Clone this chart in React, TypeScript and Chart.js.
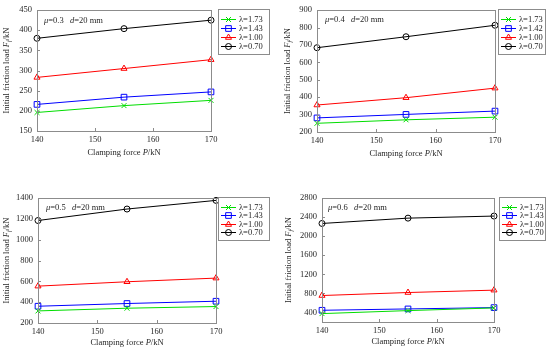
import React, { useEffect, useRef } from 'react';
import { Chart, registerables } from 'chart.js';
Chart.register(...registerables);

const clampingForce = [140, 155, 170];
const xTickMin = 140;
const xTickMax = 170;

const lambdaLabelsA = ['λ=1.73', 'λ=1.43', 'λ=1.00', 'λ=0.70'];
const lambdaLabelsB = ['λ=1.73', 'λ=1.42', 'λ=1.00', 'λ=0.70'];

// mu = 0.3
const mu03_l173 = [196, 213, 226];
const mu03_l143 = [216, 234, 247];
const mu03_l100 = [283, 305, 327];
const mu03_l070 = [380, 404, 425];
// mu = 0.4
const mu04_l173 = [250, 270, 285];
const mu04_l142 = [281, 301, 320];
const mu04_l100 = [355, 397, 452];
const mu04_l070 = [684, 747, 813];
// mu = 0.5
const mu05_l173 = [316, 342, 358];
const mu05_l143 = [361, 387, 409];
const mu05_l100 = [554, 596, 631];
const mu05_l070 = [1184, 1294, 1377];
// mu = 0.6
const mu06_l173 = [376, 439, 495];
const mu06_l143 = [446, 474, 502];
const mu06_l100 = [755, 818, 868];
const mu06_l070 = [2266, 2378, 2421];

const muValues = ['0.3', '0.4', '0.5', '0.6'];
const yRanges = [
  [150, 450, 50],
  [200, 900, 100],
  [200, 1400, 200],
  [200, 2800, 400],
];

const seriesStyles = [
  { color: '#00dd00', point: 'crossRot', radius: 3.5 },
  { color: '#0000ff', point: 'rect', radius: 4 },
  { color: '#ff0000', point: 'triangle', radius: 3.5 },
  { color: '#000000', point: 'circle', radius: 3 },
];

const panelData = [
  { labels: lambdaLabelsA, series: [mu03_l173, mu03_l143, mu03_l100, mu03_l070] },
  { labels: lambdaLabelsB, series: [mu04_l173, mu04_l142, mu04_l100, mu04_l070] },
  { labels: lambdaLabelsA, series: [mu05_l173, mu05_l143, mu05_l100, mu05_l070] },
  { labels: lambdaLabelsA, series: [mu06_l173, mu06_l143, mu06_l100, mu06_l070] },
];

const layouts = [
  { left: 0, top: 0, padTop: 5, padRight: 64, yWidth: 37, xHeight: 44, legDx: 7, legW: 51, legH: 45, yTitleX: 7, noteDx: 7, noteDy: 11, xTitleDy: 22 },
  { left: 275, top: 0, padTop: 5, padRight: 55, yWidth: 42, xHeight: 43, legDx: 3, legW: 47, legH: 45, yTitleX: 13, noteDx: 8, noteDy: 10, xTitleDy: 22 },
  { left: 0, top: 175, padTop: 23, padRight: 59, yWidth: 38, xHeight: 27, legDx: 2, legW: 51, legH: 43, yTitleX: 7, noteDx: 8, noteDy: 10, xTitleDy: 20 },
  { left: 275, top: 175, padTop: 23, padRight: 56, yWidth: 47, xHeight: 28, legDx: 5, legW: 46, legH: 43, yTitleX: 14, noteDx: 6, noteDy: 10, xTitleDy: 20 },
];

const FONT = '"Liberation Serif", "Times New Roman", serif';
const AXIS_COLOR = '#8c8c8c';
const TEXT_COLOR = '#262626';

type Seg = { t: string; i?: boolean; sub?: boolean };

function drawRich(ctx: CanvasRenderingContext2D, segs: Seg[], x: number, y: number, size: number, align: 'center' | 'left', rotate = false) {
  ctx.save();
  ctx.translate(x, y);
  if (rotate) ctx.rotate(-Math.PI / 2);
  const fontFor = (s: Seg) => `${s.i ? 'italic ' : ''}${s.sub ? size * 0.7 : size}px ${FONT}`;
  let total = 0;
  const widths = segs.map((s) => {
    ctx.font = fontFor(s);
    const w = ctx.measureText(s.t).width;
    total += w;
    return w;
  });
  let cx = align === 'center' ? -total / 2 : 0;
  ctx.textBaseline = 'middle';
  ctx.textAlign = 'left';
  ctx.fillStyle = TEXT_COLOR;
  segs.forEach((s, k) => {
    ctx.font = fontFor(s);
    ctx.fillText(s.t, cx, s.sub ? size * 0.25 : 0);
    cx += widths[k];
  });
  ctx.restore();
}

function drawMarker(ctx: CanvasRenderingContext2D, kind: string, x: number, y: number, r: number, color: string) {
  ctx.save();
  ctx.strokeStyle = color;
  ctx.lineWidth = 1;
  ctx.beginPath();
  if (kind === 'circle') {
    ctx.arc(x, y, r, 0, Math.PI * 2);
  } else if (kind === 'rect') {
    const s = r * Math.SQRT1_2;
    ctx.rect(x - s, y - s, 2 * s, 2 * s);
  } else if (kind === 'triangle') {
    ctx.moveTo(x, y - r);
    ctx.lineTo(x + r * 0.866, y + r * 0.5);
    ctx.lineTo(x - r * 0.866, y + r * 0.5);
    ctx.closePath();
  } else {
    const s = r * Math.SQRT1_2;
    ctx.moveTo(x - s, y - s);
    ctx.lineTo(x + s, y + s);
    ctx.moveTo(x + s, y - s);
    ctx.lineTo(x - s, y + s);
  }
  ctx.stroke();
  ctx.restore();
}

function Panel({ index }: { index: number }) {
  const ref = useRef<HTMLCanvasElement | null>(null);
  useEffect(() => {
    if (!ref.current) return;
    const L = layouts[index];
    const D = panelData[index];
    const [yMin, yMax, yStep] = yRanges[index];
    const mu = muValues[index];

    const decor = {
      id: 'decor' + index,
      afterDraw(chart: any) {
        const ctx: CanvasRenderingContext2D = chart.ctx;
        const a = chart.chartArea;
        const xs = chart.scales.x;
        const ys = chart.scales.y;
        ctx.save();
        ctx.strokeStyle = AXIS_COLOR;
        ctx.lineWidth = 1;
        ctx.beginPath();
        xs.ticks.forEach((t: any) => {
          const px = Math.round(xs.getPixelForValue(t.value)) + 0.5;
          ctx.moveTo(px, a.bottom);
          ctx.lineTo(px, a.bottom - 3);
        });
        ys.ticks.forEach((t: any) => {
          const py = Math.round(ys.getPixelForValue(t.value)) + 0.5;
          ctx.moveTo(a.left, py);
          ctx.lineTo(a.left + 3, py);
        });
        ctx.stroke();
        ctx.strokeRect(Math.round(a.left) + 0.5, Math.round(a.top) + 0.5, Math.round(a.right - a.left), Math.round(a.bottom - a.top));
        ctx.restore();

        drawRich(ctx, [{ t: 'μ', i: true }, { t: '=' + mu + '   ' }, { t: 'd', i: true }, { t: '=20 mm' }], a.left + L.noteDx, a.top + L.noteDy, 8.5, 'left');
        drawRich(ctx, [{ t: 'Clamping force ' }, { t: 'P', i: true }, { t: '/kN' }], (a.left + a.right) / 2, a.bottom + L.xTitleDy, 8.5, 'center');
        drawRich(ctx, [{ t: 'Initial friction load ' }, { t: 'F', i: true }, { t: 'f', i: true, sub: true }, { t: '/kN' }], L.yTitleX, (a.top + a.bottom) / 2, 8.5, 'center', true);

        const lx = a.right + L.legDx;
        const ly = a.top - 1;
        ctx.save();
        ctx.fillStyle = '#ffffff';
        ctx.fillRect(lx, ly, L.legW, L.legH);
        ctx.strokeStyle = AXIS_COLOR;
        ctx.lineWidth = 1;
        ctx.strokeRect(Math.round(lx) + 0.5, Math.round(ly) + 0.5, L.legW, L.legH);
        const rowGap = (L.legH - 9) / 4;
        D.labels.forEach((lab, k) => {
          const st = seriesStyles[k];
          const ry = Math.round(ly + 9.5 + k * rowGap) + 0.5;
          ctx.strokeStyle = st.color;
          ctx.beginPath();
          ctx.moveTo(lx + 3, ry);
          ctx.lineTo(lx + 18, ry);
          ctx.stroke();
          drawMarker(ctx, st.point, lx + 10.5, ry, st.radius, st.color);
          ctx.fillStyle = TEXT_COLOR;
          ctx.font = `8.5px ${FONT}`;
          ctx.textBaseline = 'middle';
          ctx.textAlign = 'left';
          ctx.fillText(lab, lx + 21, ry);
        });
        ctx.restore();
      },
    };

    const chart = new Chart(ref.current, {
      type: 'line',
      data: {
        datasets: D.series.map((vals, k) => ({
          label: D.labels[k],
          data: clampingForce.map((x, j) => ({ x, y: vals[j] })),
          borderColor: seriesStyles[k].color,
          backgroundColor: 'rgba(0,0,0,0)',
          borderWidth: 1,
          pointStyle: seriesStyles[k].point as any,
          pointRadius: seriesStyles[k].radius,
          pointBorderWidth: 1,
          pointBorderColor: seriesStyles[k].color,
          pointBackgroundColor: 'rgba(0,0,0,0)',
          tension: 0,
          clip: false as any,
        })),
      },
      options: {
        responsive: false,
        animation: false,
        devicePixelRatio: 1,
        layout: { padding: { top: L.padTop, right: L.padRight, left: 0, bottom: 0 } },
        plugins: { legend: { display: false }, tooltip: { enabled: false } },
        scales: {
          x: {
            type: 'linear',
            min: xTickMin,
            max: xTickMax,
            grid: { display: false, drawTicks: false, tickLength: 0 },
            border: { display: false },
            ticks: { stepSize: 10, padding: 4, color: TEXT_COLOR, font: { family: FONT, size: 8.5 }, maxRotation: 0, callback: (v: any) => String(v) },
            afterFit: (s: any) => { s.height = L.xHeight; },
          },
          y: {
            type: 'linear',
            min: yMin,
            max: yMax,
            grid: { display: false, drawTicks: false, tickLength: 0 },
            border: { display: false },
            ticks: { stepSize: yStep, includeBounds: false, padding: 5, color: TEXT_COLOR, font: { family: FONT, size: 8.5 }, callback: (v: any) => String(v) },
            afterFit: (s: any) => { s.width = L.yWidth; },
          },
        },
      },
      plugins: [decor],
    });
    return () => chart.destroy();
  }, [index]);

  const L = layouts[index];
  return (
    <div style={{ position: 'absolute', left: L.left, top: L.top, width: 275, height: 175 }}>
      <canvas ref={ref} width={275} height={175} style={{ display: 'block', width: 275, height: 175 }} />
    </div>
  );
}

export default function App() {
  return (
    <div style={{ position: 'absolute', left: 0, top: 0, width: 550, height: 350, background: '#ffffff' }}>
      {[0, 1, 2, 3].map((i) => (
        <Panel key={i} index={i} />
      ))}
    </div>
  );
}
